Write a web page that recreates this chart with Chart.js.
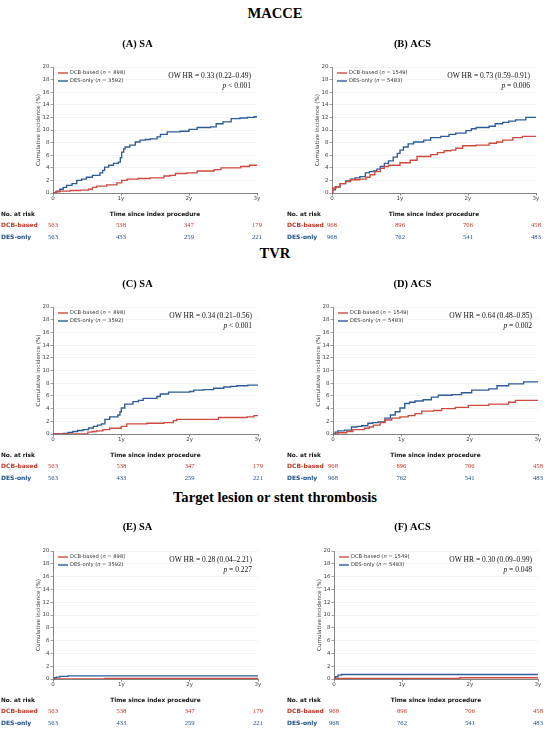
<!DOCTYPE html>
<html>
<head>
<meta charset="utf-8">
<script src="https://cdn.jsdelivr.net/npm/chart.js@4.4.1/dist/chart.umd.min.js"></script>
<style>
  html, body { margin: 0; padding: 0; background: #fff; }
  #page { position: relative; width: 550px; height: 729px; overflow: hidden; }
  .sec { position: absolute; left: 0; width: 550px; text-align: center;
         font: bold 14.6px "Liberation Serif", "Times New Roman", serif; color: #000; line-height: 16px; }
  canvas { position: absolute; }
</style>
</head>
<body>
<div id="page">
  <div class="sec" style="top:5px">MACCE</div>
  <div class="sec" style="top:245px">TVR</div>
  <div class="sec" style="top:489px">Target lesion or stent thrombosis</div>
  <canvas id="cA" width="275" height="212" style="left:0;top:30px"></canvas>
  <canvas id="cB" width="275" height="212" style="left:275px;top:30px"></canvas>
  <canvas id="cC" width="275" height="212" style="left:0;top:270px"></canvas>
  <canvas id="cD" width="275" height="212" style="left:275px;top:270px"></canvas>
  <canvas id="cE" width="275" height="216" style="left:0;top:513px"></canvas>
  <canvas id="cF" width="275" height="216" style="left:275px;top:513px"></canvas>
</div>
<script>
// axes
const xTickVals = [0, 1, 2, 3];
const xTickLabels = ["0", "1y", "2y", "3y"];
const yMax = 20;
const yStep = 2;
const groups = ["DCB-based", "DES-only"];

// numbers at risk
const riskSA_dcb = [563, 538, 347, 179];
const riskSA_des = [563, 433, 259, 221];
const riskACS_dcb = [968, 896, 706, 458];
const riskACS_des = [968, 762, 541, 483];

// MACCE, SA
const maccSA_dcb_t = [0, 0.04, 0.1, 0.25, 0.4, 0.52, 0.58, 0.64, 0.79, 0.94, 1.01, 1.09, 1.25, 1.43, 1.63, 1.72, 1.8, 1.97, 2.12, 2.37, 2.47, 2.76, 2.89, 3.0];
const maccSA_dcb_y = [0, 0.2, 0.3, 0.4, 0.45, 0.6, 0.9, 1.1, 1.3, 1.6, 2.0, 2.2, 2.3, 2.4, 2.7, 2.8, 3.1, 3.2, 3.5, 3.7, 4.0, 4.2, 4.4, 4.4];
const maccSA_des_t = [0, 0.05, 0.1, 0.15, 0.2, 0.28, 0.35, 0.42, 0.49, 0.58, 0.69, 0.73, 0.76, 0.82, 0.89, 0.96, 0.99, 1.01, 1.04, 1.06, 1.13, 1.21, 1.28, 1.36, 1.43, 1.53, 1.58, 1.68, 1.87, 2.0, 2.12, 2.32, 2.4, 2.5, 2.62, 2.75, 2.86, 2.96, 3.0];
const maccSA_des_y = [0, 0.3, 0.6, 0.9, 1.2, 1.5, 2.0, 2.2, 2.5, 2.8, 3.2, 3.6, 4.1, 4.4, 4.7, 4.9, 5.6, 6.5, 7.0, 7.3, 7.6, 8.1, 8.4, 8.5, 8.6, 8.9, 9.3, 9.7, 9.8, 10.1, 10.4, 10.5, 11.0, 11.3, 11.8, 11.9, 12.0, 12.1, 12.2];

// MACCE, ACS
const maccACS_dcb_t = [0, 0.01, 0.06, 0.12, 0.2, 0.27, 0.41, 0.5, 0.56, 0.63, 0.71, 0.77, 0.83, 1.0, 1.15, 1.25, 1.45, 1.55, 1.65, 1.75, 1.82, 1.92, 2.12, 2.31, 2.42, 2.51, 2.66, 2.8, 3.0];
const maccACS_dcb_y = [0, 0.8, 1.0, 1.5, 1.8, 2.1, 2.2, 2.5, 2.9, 3.4, 3.9, 4.2, 4.4, 4.8, 5.2, 5.8, 6.1, 6.4, 6.7, 6.8, 7.1, 7.5, 7.6, 7.9, 8.1, 8.4, 8.8, 9.0, 9.0];
const maccACS_des_t = [0, 0.01, 0.05, 0.12, 0.2, 0.27, 0.34, 0.41, 0.49, 0.55, 0.61, 0.66, 0.71, 0.77, 0.83, 0.9, 0.96, 1.0, 1.05, 1.12, 1.2, 1.35, 1.45, 1.6, 1.72, 1.82, 1.97, 2.05, 2.12, 2.31, 2.4, 2.51, 2.6, 2.7, 2.85, 3.0];
const maccACS_des_y = [0, 0.5, 1.0, 1.5, 1.9, 2.2, 2.4, 2.6, 3.2, 3.4, 3.5, 3.8, 4.2, 4.7, 5.1, 5.7, 6.3, 6.8, 7.3, 7.8, 8.1, 8.4, 8.8, 9.0, 9.3, 9.5, 9.9, 10.2, 10.4, 10.6, 11.0, 11.2, 11.4, 11.6, 12.0, 12.1];

// TVR, SA
const tvrSA_dcb_t = [0, 0.51, 0.57, 0.64, 0.73, 0.83, 1.0, 1.08, 1.37, 1.62, 1.76, 1.81, 2.42, 2.84, 2.94, 3.0];
const tvrSA_dcb_y = [0, 0.3, 0.4, 0.5, 0.7, 0.9, 1.2, 1.6, 1.7, 1.8, 2.1, 2.3, 2.6, 2.7, 2.9, 2.9];
const tvrSA_des_t = [0, 0.15, 0.22, 0.29, 0.36, 0.44, 0.52, 0.59, 0.65, 0.71, 0.76, 0.83, 0.95, 0.98, 1.0, 1.05, 1.17, 1.25, 1.32, 1.52, 1.57, 1.69, 2.0, 2.06, 2.2, 2.35, 2.5, 2.6, 2.69, 2.85, 3.0];
const tvrSA_des_y = [0, 0.1, 0.25, 0.4, 0.55, 0.7, 0.95, 1.2, 1.4, 1.6, 2.3, 2.7, 3.0, 3.5, 4.1, 4.7, 5.1, 5.3, 5.6, 5.9, 6.3, 6.6, 6.7, 6.9, 7.0, 7.2, 7.4, 7.5, 7.6, 7.7, 7.7];

// TVR, ACS
const tvrACS_dcb_t = [0, 0.07, 0.2, 0.29, 0.46, 0.53, 0.59, 0.69, 0.76, 0.86, 0.98, 1.1, 1.2, 1.3, 1.47, 1.59, 1.79, 1.98, 2.28, 2.57, 2.67, 3.0];
const tvrACS_dcb_y = [0, 0.2, 0.4, 0.7, 0.9, 1.1, 1.4, 1.8, 2.2, 2.5, 2.7, 2.9, 3.2, 3.6, 3.7, 4.0, 4.2, 4.5, 4.7, 5.0, 5.3, 5.4];
const tvrACS_des_t = [0, 0.03, 0.07, 0.17, 0.27, 0.35, 0.42, 0.51, 0.58, 0.66, 0.76, 0.84, 0.91, 0.98, 1.05, 1.12, 1.2, 1.32, 1.44, 1.54, 1.74, 1.88, 2.03, 2.28, 2.4, 2.57, 2.79, 2.9, 3.0];
const tvrACS_des_y = [0, 0.3, 0.5, 0.6, 1.1, 1.2, 1.3, 1.7, 1.8, 1.9, 2.5, 3.0, 3.5, 4.1, 4.8, 5.0, 5.2, 5.4, 5.8, 6.1, 6.2, 6.5, 6.9, 7.1, 7.6, 7.9, 8.2, 8.2, 8.3];

// target lesion or stent thrombosis
const stSA_dcb_t = [0, 0.76, 3.0];
const stSA_dcb_y = [0, 0.1, 0.1];
const stSA_des_t = [0, 0.02, 0.05, 0.1, 0.22, 3.0];
const stSA_des_y = [0, 0.2, 0.3, 0.4, 0.5, 0.5];
const stACS_dcb_t = [0, 0.02, 1.85, 3.0];
const stACS_dcb_y = [0, 0.1, 0.2, 0.2];
const stACS_des_t = [0, 0.02, 0.06, 0.11, 3.0];
const stACS_des_y = [0, 0.35, 0.6, 0.7, 0.7];

const RED = "#cd4a3e";
const BLUE = "#2d5d96";
const RED_TXT = "#c0392b";
const BLUE_TXT = "#1f4f8a";
const SANS = "'DejaVu Sans', sans-serif";
const SERIF = "'Liberation Serif', 'Times New Roman', serif";

const panels = [
  { id: "cA", title: "(A) SA", n: [898, 3592], hr: "OW HR = 0.33 (0.22\u20130.49)", p: " < 0.001",
    dcb: [maccSA_dcb_t, maccSA_dcb_y], des: [maccSA_des_t, maccSA_des_y], risk: [riskSA_dcb, riskSA_des],
    left: 53, right: 257, top: 37, bottom: 163, h: 212, labelX: 1 },
  { id: "cB", title: "(B) ACS", n: [1549, 5483], hr: "OW HR = 0.73 (0.59\u20130.91)", p: " = 0.006",
    dcb: [maccACS_dcb_t, maccACS_dcb_y], des: [maccACS_des_t, maccACS_des_y], risk: [riskACS_dcb, riskACS_des],
    left: 57, right: 261, top: 37, bottom: 163, h: 212, labelX: 12 },
  { id: "cC", title: "(C) SA", n: [898, 3592], hr: "OW HR = 0.34 (0.21\u20130.56)", p: " < 0.001",
    dcb: [tvrSA_dcb_t, tvrSA_dcb_y], des: [tvrSA_des_t, tvrSA_des_y], risk: [riskSA_dcb, riskSA_des],
    left: 53, right: 258, top: 37, bottom: 164, h: 212, labelX: 1 },
  { id: "cD", title: "(D) ACS", n: [1549, 5483], hr: "OW HR = 0.64 (0.48\u20130.85)", p: " = 0.002",
    dcb: [tvrACS_dcb_t, tvrACS_dcb_y], des: [tvrACS_des_t, tvrACS_des_y], risk: [riskACS_dcb, riskACS_des],
    left: 58, right: 263, top: 37, bottom: 164, h: 212, labelX: 12 },
  { id: "cE", title: "(E) SA", n: [898, 3592], hr: "OW HR = 0.28 (0.04\u20132.21)", p: " = 0.227",
    dcb: [stSA_dcb_t, stSA_dcb_y], des: [stSA_des_t, stSA_des_y], risk: [riskSA_dcb, riskSA_des],
    left: 53, right: 258, top: 38, bottom: 166, h: 216, labelX: 1 },
  { id: "cF", title: "(F) ACS", n: [1549, 5483], hr: "OW HR = 0.30 (0.09\u20130.99)", p: " = 0.048",
    dcb: [stACS_dcb_t, stACS_dcb_y], des: [stACS_des_t, stACS_des_y], risk: [riskACS_dcb, riskACS_des],
    left: 59, right: 263, top: 38, bottom: 166, h: 216, labelX: 12 }
];

function toPoints(ts, ys) {
  return ts.map((t, i) => ({ x: t, y: ys[i] }));
}

// titles, legend, HR box and the at-risk table
function decor(p) {
  return {
    id: "decor_" + p.id,
    afterDraw(chart) {
      const ctx = chart.ctx;
      const area = chart.chartArea;
      const xs = xTickVals.map(v => chart.scales.x.getPixelForValue(v));
      ctx.save();
      ctx.textBaseline = "middle";

      ctx.fillStyle = "#000";
      ctx.textAlign = "center";
      ctx.font = "bold 10.4px " + SERIF;
      ctx.fillText(p.title, chart.width / 2, 14);

      // legend
      const cols = [RED, BLUE];
      for (let i = 0; i < 2; i++) {
        const y = area.top + 6 + i * 8;
        ctx.strokeStyle = cols[i];
        ctx.lineWidth = 1.4;
        ctx.beginPath();
        ctx.moveTo(area.left + 5, y);
        ctx.lineTo(area.left + 15, y);
        ctx.stroke();
        ctx.fillStyle = "#333";
        ctx.textAlign = "left";
        let x = area.left + 17;
        ctx.font = "5.2px " + SANS;
        const a = groups[i] + " (";
        ctx.fillText(a, x, y);
        x += ctx.measureText(a).width;
        ctx.font = "italic 5.2px " + SANS;
        ctx.fillText("n", x, y);
        x += ctx.measureText("n").width;
        ctx.font = "5.2px " + SANS;
        ctx.fillText(" = " + p.n[i] + ")", x, y);
      }

      // hazard ratio
      ctx.fillStyle = "#111";
      ctx.textAlign = "right";
      ctx.font = "7.5px " + SERIF;
      const rx = area.right - 6;
      ctx.fillText(p.hr, rx, area.top + 9);
      ctx.fillText(p.p, rx, area.top + 19);
      const pw = ctx.measureText(p.p).width;
      ctx.font = "italic 7.5px " + SERIF;
      ctx.fillText("p", rx - pw, area.top + 19);

      // number at risk
      ctx.fillStyle = "#111";
      ctx.font = "bold 5.8px " + SANS;
      ctx.textAlign = "left";
      ctx.fillText("No. at risk", p.labelX, area.bottom + 21);
      ctx.textAlign = "center";
      ctx.fillText("Time since index procedure", (area.left + area.right) / 2, area.bottom + 21);
      const txtCols = [RED_TXT, BLUE_TXT];
      for (let i = 0; i < 2; i++) {
        const y = area.bottom + 32 + i * 12;
        ctx.fillStyle = txtCols[i];
        ctx.font = "bold 6px " + SANS;
        ctx.textAlign = "left";
        ctx.fillText(groups[i], p.labelX, y);
        ctx.font = "6.6px " + SERIF;
        ctx.textAlign = "center";
        p.risk[i].forEach((v, j) => ctx.fillText(String(v), xs[j], y));
      }
      ctx.restore();
    }
  };
}

function makeChart(p) {
  const tickFont = { family: SANS, size: 5.5 };
  new Chart(document.getElementById(p.id), {
    type: "line",
    data: {
      datasets: [
        { label: groups[0], data: toPoints(p.dcb[0], p.dcb[1]), borderColor: RED, borderWidth: 1.35,
          pointRadius: 0, stepped: true, fill: false },
        { label: groups[1], data: toPoints(p.des[0], p.des[1]), borderColor: BLUE, borderWidth: 1.35,
          pointRadius: 0, stepped: true, fill: false }
      ]
    },
    options: {
      responsive: false,
      animation: false,
      events: [],
      layout: { padding: { left: 0, right: 275 - p.right, top: p.top, bottom: p.h - p.bottom - 12 } },
      plugins: { legend: { display: false }, tooltip: { enabled: false }, title: { display: false } },
      scales: {
        x: {
          type: "linear", min: 0, max: 3,
          afterFit: s => { s.height = 12; },
          ticks: { stepSize: 1, font: tickFont, color: "#444", padding: 0, maxRotation: 0,
                   callback: v => xTickLabels[xTickVals.indexOf(v)] },
          grid: { drawOnChartArea: false, tickLength: 2.5, tickColor: "#666", lineWidth: 0.8 },
          border: { color: "#666", width: 0.8 }
        },
        y: {
          min: 0, max: yMax,
          afterFit: s => { s.width = p.left; },
          ticks: { stepSize: yStep, font: tickFont, color: "#444", padding: 1 },
          grid: { color: "#ededed", lineWidth: 0.6, tickLength: 2.5, tickColor: "#666" },
          border: { color: "#666", width: 0.8 },
          title: { display: true, text: "Cumulative incidence (%)", color: "#444",
                   font: { family: SANS, size: 5.6 }, padding: { top: p.left - 18, bottom: 0 } }
        }
      }
    },
    plugins: [decor(p)]
  });
}

panels.forEach(makeChart);
</script>
</body>
</html>
